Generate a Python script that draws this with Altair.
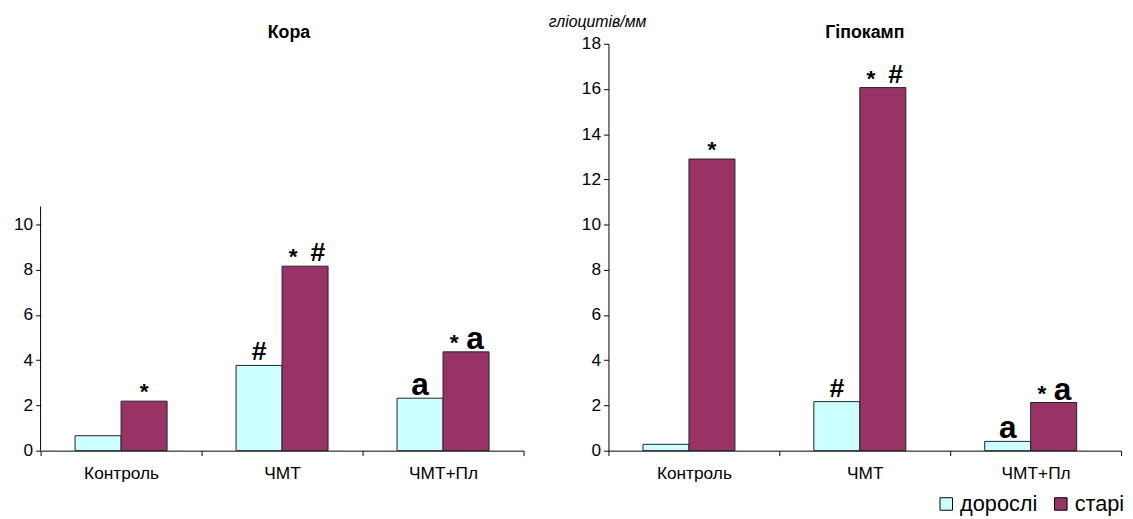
import altair as alt
import pandas as pd

FONT = "Liberation Sans"

categories = ["Контроль", "ЧМТ", "ЧМТ+Пл"]
groups = ["дорослі", "старі"]
colors = ["#CCFFFF", "#993366"]

kora_adult = [0.66, 3.77, 2.32]
kora_old = [2.19, 8.16, 4.37]
hippo_adult = [0.28, 2.17, 0.41]
hippo_old = [12.9, 16.06, 2.13]

star_adult = [False, False, False]
star_old = [True, True, True]
sym_adult = ["", "#", "a"]
sym_old = ["", "#", "a"]

kora_ticks = [0, 2, 4, 6, 8, 10]
hippo_ticks = [0, 2, 4, 6, 8, 10, 12, 14, 16, 18]
kora_axis_top = 10.8
y_top = 18

PLOT_H = 412


def make_df(adult, old):
    rows = []
    for i, c in enumerate(categories):
        rows.append(dict(cat=c, group=groups[0], value=adult[i], star=star_adult[i], sym=sym_adult[i]))
        rows.append(dict(cat=c, group=groups[1], value=old[i], star=star_old[i], sym=sym_old[i]))
    return pd.DataFrame(rows)


legend = alt.Legend(
    title=None, orient="none", legendX=906, legendY=455, direction="horizontal",
    symbolType="square", symbolSize=160, symbolStrokeColor="black", symbolStrokeWidth=1,
    labelFontSize=22, labelFont=FONT, labelColor="black", columnPadding=12, symbolOffset=0,
    labelOffset=3,
)


def panel(df, title, width, ticks, axis_top, ytitle, title_dx, title_dy):
    x = alt.X(
        "cat:N", sort=categories,
        scale=alt.Scale(paddingInner=0, paddingOuter=0),
        axis=alt.Axis(
            title=None, tickBand="extent", labelAngle=0,
            tickSize=5, labelPadding=9, domainColor="black", tickColor="black",
            labelFontSize=17.5, labelFont=FONT, labelColor="black", grid=False,
        ),
    )
    xo = alt.XOffset("group:N", sort=groups, scale=alt.Scale(paddingOuter=0.75, paddingInner=0))
    yaxis_kw = dict(
        values=ticks, tickSize=5, labelPadding=3, tickColor="black", domainColor="black",
        labelFontSize=17.5, labelFont=FONT, labelColor="black", grid=False,
        domain=axis_top is None,
    )
    if ytitle:
        yaxis_kw.update(
            title=ytitle, titleAngle=0, titleAlign="left", titleBaseline="alphabetic",
            titleX=-61, titleY=-17, titleFontStyle="italic", titleFontWeight="normal",
            titleFontSize=16, titleFont=FONT, titleColor="black",
        )
    else:
        yaxis_kw.update(title=None)
    y = alt.Y("value:Q", scale=alt.Scale(domain=[0, y_top], nice=False), axis=alt.Axis(**yaxis_kw))
    color = alt.Color("group:N", sort=groups, scale=alt.Scale(domain=groups, range=colors), legend=legend)

    base = alt.Chart(df)
    bars = base.mark_bar(stroke="#222222", strokeWidth=1).encode(x=x, xOffset=xo, y=y, color=color)

    def txt(filt, label, size, dx, dy):
        return base.transform_filter(filt).transform_calculate(lbl=label).mark_text(
            fontSize=size, fontWeight="bold", font=FONT, color="black",
            baseline="alphabetic", dx=dx, dy=dy,
        ).encode(x=x, xOffset=xo, y=y, text="lbl:N")

    layers = [
        bars,
        txt("datum.star && datum.sym == ''", "'*'", 23, 0, -2),
        txt("datum.star && datum.sym != ''", "'*'", 23, -12, -2),
        txt("!datum.star && datum.sym == '#'", "'#'", 27, 0, -5),
        txt("datum.star && datum.sym == '#'", "'#'", 27, 13, -5),
        txt("!datum.star && datum.sym == 'a'", "'a'", 32, 0, -3),
        txt("datum.star && datum.sym == 'a'", "'a'", 32, 9, -3),
    ]
    if axis_top is not None:
        ad = pd.DataFrame({"value": [0], "value2": [axis_top]})
        layers.append(
            alt.Chart(ad).mark_rule(color="black", strokeWidth=1).encode(
                x=alt.value(0), y=y, y2="value2:Q"
            )
        )
    return alt.layer(*layers).properties(
        width=width, height=PLOT_H,
        view=alt.ViewBackground(stroke="transparent", strokeWidth=0),
        title=alt.TitleParams(title, fontSize=18, fontWeight="bold", font=FONT, color="black",
                              offset=2, dx=title_dx, dy=title_dy, frame="group"),
    )


left = panel(make_df(kora_adult, kora_old), "Кора", 489, kora_ticks, kora_axis_top, None, 7, 0)
right = panel(make_df(hippo_adult, hippo_old), "Гіпокамп", 519, hippo_ticks, None, "гліоцитів/мм", 0, 30)

chart = alt.hconcat(left, right, spacing=24).properties(
    padding={"left": 5, "top": 3, "right": 0, "bottom": 0}
).configure_view(stroke="transparent", strokeWidth=0).configure(background="white")

chart.save("out.html", embed_options={"renderer": "svg", "actions": False})
